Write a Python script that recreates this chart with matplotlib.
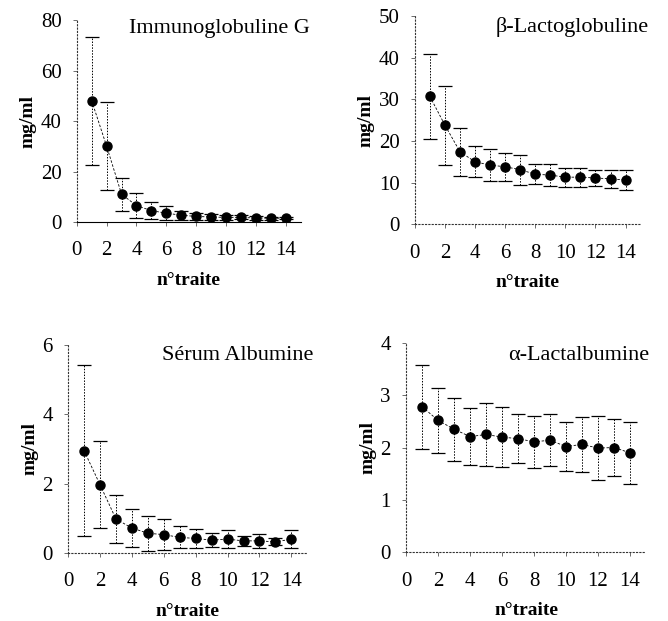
import matplotlib.pyplot as plt
import numpy as np

plt.rcParams['font.family'] = ['Liberation Serif', 'DejaVu Serif']

# n° traite
traite = [1, 2, 3, 4, 5, 6, 7, 8, 9, 10, 11, 12, 13, 14]

# Immunoglobuline G
igg_mean = [48, 30, 11, 6.5, 4.5, 3.5, 2.7, 2.2, 2.0, 1.8, 1.8, 1.6, 1.5, 1.5]
igg_sd = [25.5, 17.5, 6.5, 5.0, 3.5, 2.7, 1.8, 1.3, 1.2, 1.0, 0.8, 0.7, 0.6, 0.5]

# beta-Lactoglobuline
blg_mean = [30.7, 23.8, 17.4, 15.0, 14.2, 13.8, 13.1, 12.0, 11.8, 11.3, 11.3, 11.1, 10.9, 10.6]
blg_sd = [10.3, 9.5, 5.7, 3.7, 3.8, 3.4, 3.6, 2.4, 2.7, 2.3, 2.3, 1.9, 2.1, 2.4]

# Serum Albumine
sa_mean = [2.95, 1.97, 0.98, 0.72, 0.57, 0.53, 0.45, 0.42, 0.37, 0.40, 0.35, 0.35, 0.32, 0.40]
sa_sd = [2.47, 1.26, 0.70, 0.56, 0.50, 0.45, 0.32, 0.28, 0.20, 0.25, 0.15, 0.20, 0.10, 0.25]

# alpha-Lactalbumine
ala_mean = [2.78, 2.52, 2.35, 2.21, 2.25, 2.20, 2.17, 2.11, 2.14, 2.02, 2.06, 1.99, 2.00, 1.90]
ala_sd = [0.80, 0.62, 0.60, 0.55, 0.60, 0.57, 0.47, 0.50, 0.50, 0.46, 0.53, 0.62, 0.55, 0.59]

titles = ['Immunoglobuline G', 'β-Lactoglobuline', 'Sérum Albumine', 'α-Lactalbumine']
ymax = [80, 50, 6, 4]
ystep = [20, 10, 2, 1]
means = [igg_mean, blg_mean, sa_mean, ala_mean]
sds = [igg_sd, blg_sd, sa_sd, ala_sd]

# axes boxes [left, bottom, width, height] in figure fraction
boxes = [[0.115, 0.6425, 0.335, 0.325],
         [0.621, 0.639, 0.338, 0.335],
         [0.102, 0.1095, 0.358, 0.335],
         [0.608, 0.111, 0.359, 0.3366]]
# title anchor (right edge x, centre y) in pixels from top-left
title_pos = [(310, 28), (649, 27), (313, 355), (649, 355)]

W, H = 668, 621
fig = plt.figure(figsize=(W / 100, H / 100), dpi=100, facecolor='white')

for i in range(4):
    ax = fig.add_axes(boxes[i])
    eb = ax.errorbar(traite, means[i], yerr=sds[i], fmt='o', color='black',
                     ms=6.5, ecolor='black', elinewidth=0.7, capsize=5,
                     capthick=0.9, zorder=3)
    eb[2][0].set_linestyle((0, (1.5, 1.5)))
    ax.plot(traite, means[i], color='black', lw=0.6, ls=(0, (3, 2)), zorder=2)

    ax.set_xlim(0, 15)
    ax.set_ylim(0, ymax[i])
    ax.set_xticks(np.arange(0, 15, 2))
    ax.set_yticks(np.arange(0, ymax[i] + 1e-9, ystep[i]))
    ax.tick_params(axis='both', labelsize=15, length=3, width=0.6, color='#555555')
    ax.tick_params(axis='x', pad=11)
    ax.tick_params(axis='y', pad=8)

    for s in ['top', 'right']:
        ax.spines[s].set_visible(False)
    for s in ['left', 'bottom']:
        ax.spines[s].set_linestyle((0, (1, 2)))
        ax.spines[s].set_linewidth(0.8)
        ax.spines[s].set_color('#333333')
    if i == 0:
        # baseline of the IgG panel is drawn solid
        ax.spines['bottom'].set_linestyle('-')
        ax.spines['bottom'].set_color('black')

    ax.set_xlabel('n°traite', fontsize=14, fontweight='bold', labelpad=8)
    ax.set_ylabel('mg/ml', fontsize=14, fontweight='bold', labelpad=3)
    tx, ty = title_pos[i]
    fig.text(tx / W, 1 - ty / H, titles[i], ha='right', va='center', fontsize=16)

fig.savefig('out.png', dpi=100, facecolor='white')
